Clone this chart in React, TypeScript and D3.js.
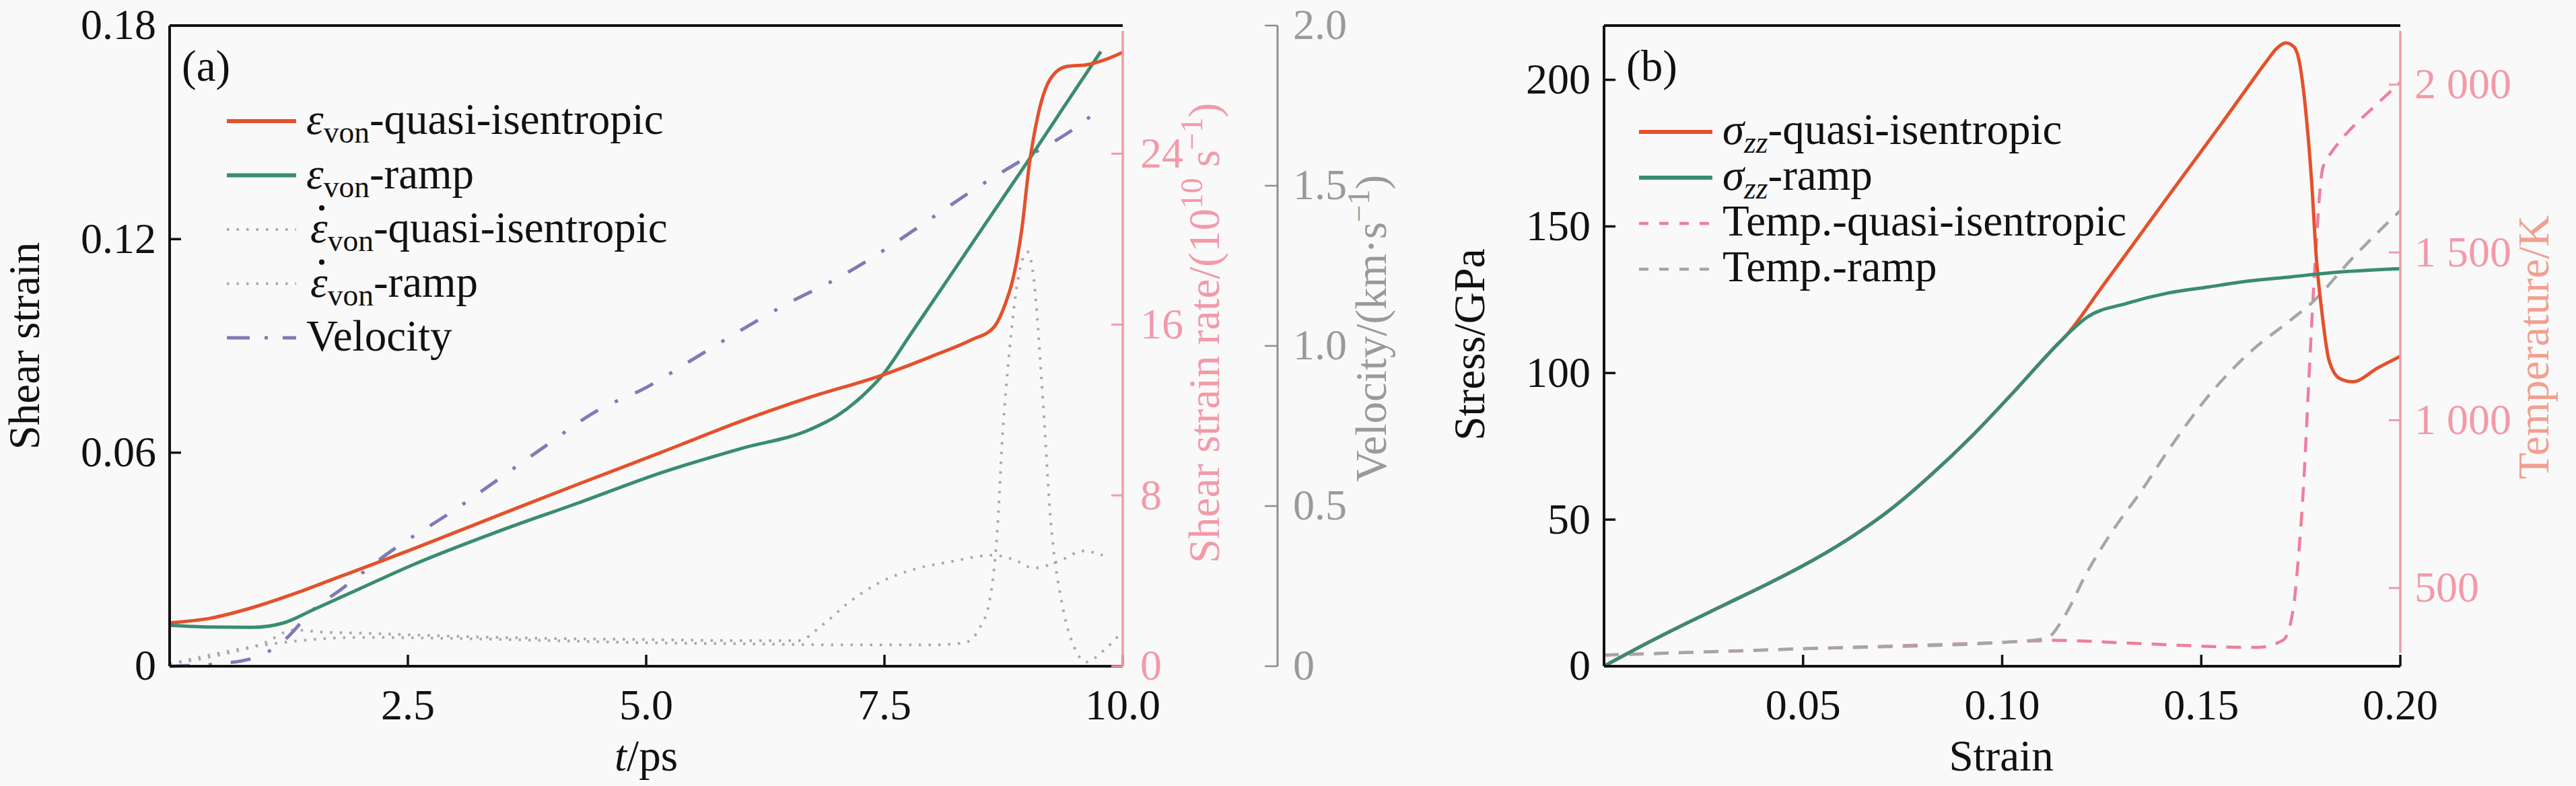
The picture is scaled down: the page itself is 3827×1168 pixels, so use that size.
import React from "react";
import * as d3 from "d3";

const W = 3827,
  H = 1168;
const TXT = { fontFamily: '"Liberation Serif"' };

// ---- panel (a): shear strain vs time ----
const tQuasi = [0, 0.43, 0.86, 1.29, 1.72, 2.14, 2.57, 3.43, 4.29, 5.15, 6.0, 6.72, 7.48, 7.99, 8.42, 8.64, 8.77, 8.85, 8.94, 9.02, 9.11, 9.24, 9.41, 9.62, 9.79, 10];
const strainQuasi = [0.0122, 0.0135, 0.0164, 0.0202, 0.0245, 0.0287, 0.0331, 0.0422, 0.0512, 0.06, 0.0689, 0.0756, 0.0818, 0.087, 0.0918, 0.095, 0.102, 0.109, 0.1226, 0.141, 0.1547, 0.165, 0.1685, 0.169, 0.1702, 0.1725];

const tRamp = [0, 0.43, 0.86, 1.2, 1.5, 1.93, 2.57, 3.43, 4.29, 5.15, 6.0, 6.71, 7.01, 7.27, 7.48, 7.78, 7.99, 8.42, 8.85, 9.05, 9.28, 9.54, 9.77];
const strainRamp = [0.0115, 0.011, 0.0109, 0.0122, 0.0158, 0.021, 0.0287, 0.0377, 0.0459, 0.0543, 0.0612, 0.0664, 0.0705, 0.076, 0.0818, 0.0935, 0.1018, 0.1188, 0.1358, 0.1437, 0.153, 0.1635, 0.1727];

const tRateQuasi = [0, 0.5, 1.0, 1.5, 2, 3, 4, 5, 6, 7, 8, 8.34, 8.5, 8.6, 8.68, 8.74, 8.81, 8.9, 9.0, 9.07, 9.15, 9.25, 9.36, 9.49, 9.62, 9.79, 9.97];
const rateQuasi = [0.1, 0.6, 1.0, 1.25, 1.35, 1.3, 1.2, 1.1, 1.05, 1.0, 1.0, 1.1, 1.8, 3.0, 6.1, 10.9, 14.7, 18.1, 19.4, 18.0, 13.3, 6.5, 3.0, 0.9, 0.2, 0.7, 1.5];

const tRateRamp = [0, 0.5, 1.0, 1.3, 1.6, 2, 3, 4, 5, 6, 6.6, 6.84, 7.13, 7.44, 7.78, 8.2, 8.64, 8.85, 9.07, 9.37, 9.58, 9.79];
const rateRamp = [0.1, 0.5, 1.1, 1.7, 1.6, 1.55, 1.4, 1.3, 1.25, 1.2, 1.2, 1.9, 3.0, 3.9, 4.5, 4.9, 5.2, 5.0, 4.6, 5.0, 5.4, 5.2];

const tVel = [0, 0.6, 1.0, 1.2, 1.5, 1.8, 2.27, 3.0, 3.86, 4.5, 5.0, 5.5, 6.0, 6.5, 7.0, 7.5, 8.0, 8.5, 9.0, 9.5, 9.8];
const velocity = [0, 0.01, 0.04, 0.08, 0.175, 0.24, 0.348, 0.49, 0.67, 0.8, 0.87, 0.96, 1.05, 1.135, 1.21, 1.3, 1.4, 1.5, 1.59, 1.68, 1.75];

const xTicksA = [2.5, 5, 7.5, 10];
const yTicksA = [0, 0.06, 0.12, 0.18];
const rateTicks = [0, 8, 16, 24];
const velTicks = [0, 0.5, 1, 1.5, 2];

// ---- panel (b): stress / temperature vs strain ----
const eQuasi = [0, 0.0103, 0.0205, 0.0308, 0.041, 0.05, 0.0616, 0.0719, 0.0821, 0.0924, 0.1026, 0.1129, 0.116, 0.125, 0.135, 0.145, 0.155, 0.1621, 0.1665, 0.169, 0.1712, 0.1733, 0.1748, 0.1762, 0.1777, 0.1789, 0.1802, 0.1821, 0.1848, 0.188, 0.1944, 0.2];
const stressQuasi = [0, 7.5, 14.5, 21.3, 28.0, 34.3, 43.6, 53.4, 65.2, 78.5, 93.1, 108.4, 112.7, 129.2, 147.8, 166.4, 184.9, 198.3, 206.5, 210.8, 212.6, 211.2, 205, 190, 165.8, 139.4, 122, 104.3, 98.1, 97, 101.8, 105.7];

const eRamp = [0, 0.0103, 0.0205, 0.0308, 0.041, 0.05, 0.0616, 0.0719, 0.0821, 0.0924, 0.1026, 0.1129, 0.116, 0.1212, 0.1314, 0.1417, 0.152, 0.162, 0.1725, 0.1827, 0.2];
const stressRamp = [0, 7.5, 14.5, 21.3, 28.0, 34.3, 43.6, 53.4, 65.2, 78.5, 93.1, 108.4, 112.7, 118.9, 123.8, 127.3, 129.4, 131.4, 132.8, 134.2, 135.6];

const eTempQuasi = [0, 0.05, 0.1, 0.113, 0.1334, 0.164, 0.1706, 0.1731, 0.1743, 0.1757, 0.177, 0.1785, 0.1805, 0.1828, 0.1848, 0.1944, 0.2];
const tempQuasi = [300, 319, 338, 344, 335, 323, 345, 437, 576, 806, 1113, 1450, 1750, 1800, 1831, 1945, 2007];

const eTempRamp = [0, 0.05, 0.1, 0.111, 0.116, 0.121, 0.128, 0.135, 0.1417, 0.152, 0.162, 0.1725, 0.1776, 0.1879, 0.2];
const tempRamp = [300, 319, 338, 350, 423, 540, 675, 790, 910, 1075, 1200, 1299, 1348, 1482, 1625];

const xTicksB = [0.05, 0.1, 0.15, 0.2];
const yTicksB = [0, 50, 100, 150, 200];
const tempTicks = [500, 1000, 1500, 2000];

const RED = "#e4512b";
const GREEN = "#3a8c70";
const PINK = "#f29aa8";
const GREY = "#9a9a9a";
const VEL = "#7e7bb5";
const INK = "#111";

// scales
const xA = d3.scaleLinear().domain([0, 10]).range([252, 1668]);
const yA = d3.scaleLinear().domain([0, 0.18]).range([990, 38]);
const yRate = d3.scaleLinear().domain([0, 30]).range([990, 38]);
const yVel = d3.scaleLinear().domain([0, 2]).range([990, 38]);
const xB = d3.scaleLinear().domain([0, 0.2]).range([2383, 3566]);
const yB = d3.scaleLinear().domain([0, 218.5]).range([990, 38]);
const yT = d3.scaleLinear().domain([267, 2176]).range([990, 38]);

const curve = (xs: number[], ys: number[], x: any, y: any) =>
  d3
    .line<number>()
    .x((_, i) => x(xs[i]))
    .y((d) => y(d))
    .curve(d3.curveMonotoneX)(ys) as string;

type Part = { t: string; italic?: boolean; sub?: boolean; sup?: boolean };

function parts(ps: Part[], size: number) {
  let shift = 0;
  return ps.map((p, i) => {
    const target = p.sub ? 0.2 * size : p.sup ? -0.38 * size : 0;
    const dy = target - shift;
    shift = target;
    return (
      <tspan key={i} dy={dy} fontSize={p.sub || p.sup ? size * 0.7 : size} fontStyle={p.italic ? "italic" : undefined}>
        {p.t}
      </tspan>
    );
  });
}

function Title({ x, y, ps, color, rotate }: { x: number; y: number; ps: Part[]; color: string; rotate?: boolean }) {
  return (
    <text
      transform={rotate ? `translate(${x},${y}) rotate(-90)` : `translate(${x},${y})`}
      textAnchor="middle"
      fontSize={65}
      fill={color}
      style={TXT}
    >
      <tspan dy={rotate ? 23 : 0}>{parts(ps, 65)}</tspan>
    </text>
  );
}

// vertical axis: ticks drawn with the scale, tickLen < 0 points left
function VAxis({ scale, x, ticks, fmt, tickLen, labelDx, anchor, color, text, width, y0, y1 }: any) {
  return (
    <g>
      <path d={`M${x},${y0 ?? scale.range()[1]}V${y1 ?? scale.range()[0]}`} stroke={color} strokeWidth={width} fill="none" />
      {ticks.map((t: number) => (
        <g key={t} transform={`translate(${x},${scale(t)})`}>
          <line x2={tickLen} stroke={color} strokeWidth={width - 0.5} />
          <text x={labelDx} dy="0.32em" textAnchor={anchor} fontSize={64} fill={text} style={TXT}>
            {fmt(t)}
          </text>
        </g>
      ))}
    </g>
  );
}

function HAxis({ scale, y, ticks, fmt }: any) {
  const [a, b] = scale.range();
  return (
    <g>
      <path d={`M${a},${y}H${b}`} stroke={INK} strokeWidth={4} fill="none" />
      {ticks.map((t: number) => (
        <g key={t} transform={`translate(${scale(t)},${y})`}>
          <line y2={-17} stroke={INK} strokeWidth={3.5} />
          <text y={79} textAnchor="middle" fontSize={64} fill={INK} style={TXT}>
            {fmt(t)}
          </text>
        </g>
      ))}
    </g>
  );
}

const legendA = [
  { ps: [{ t: "ε", italic: true }, { t: "von", sub: true }, { t: "-quasi-isentropic" }], c: RED, w: 6, dash: undefined, dot: false },
  { ps: [{ t: "ε", italic: true }, { t: "von", sub: true }, { t: "-ramp" }], c: GREEN, w: 6, dash: undefined, dot: false },
  { ps: [{ t: "ε", italic: true }, { t: "von", sub: true }, { t: "-quasi-isentropic" }], c: "#b3a4aa", w: 4, dash: "3.5,11", dot: true },
  { ps: [{ t: "ε", italic: true }, { t: "von", sub: true }, { t: "-ramp" }], c: "#a9a9a9", w: 4, dash: "3.5,11", dot: true },
  { ps: [{ t: "Velocity" }], c: VEL, w: 5, dash: "34,22,5,22", dot: false },
];

const legendB = [
  { ps: [{ t: "σ", italic: true }, { t: "zz", sub: true, italic: true }, { t: "-quasi-isentropic" }], c: RED, w: 6, dash: undefined },
  { ps: [{ t: "σ", italic: true }, { t: "zz", sub: true, italic: true }, { t: "-ramp" }], c: GREEN, w: 6, dash: undefined },
  { ps: [{ t: "Temp.-quasi-isentropic" }], c: "#ee7f9a", w: 4.5, dash: "14,16" },
  { ps: [{ t: "Temp.-ramp" }], c: "#a6a6a6", w: 4.5, dash: "14,16" },
];

const fmt2 = (d: number) => (d === 0 ? "0" : d3.format(".2f")(d));
const fmt1 = (d: number) => (d === 0 ? "0" : d3.format(".1f")(d));
const fmtT = (d: number) => (d >= 1000 ? `${Math.floor(d / 1000)} ${String(d % 1000).padStart(3, "0")}` : String(d));

export default function App() {
  const linesA = [
    { d: curve(tRateRamp, rateRamp, xA, yRate), c: "#a9a9a9", w: 4, dash: "3.5,11" },
    { d: curve(tRateQuasi, rateQuasi, xA, yRate), c: "#b3a4aa", w: 4, dash: "3.5,11" },
    { d: curve(tVel, velocity, xA, yVel), c: VEL, w: 5, dash: "30,28,5,28" },
    { d: curve(tRamp, strainRamp, xA, yA), c: GREEN, w: 5, dash: undefined },
    { d: curve(tQuasi, strainQuasi, xA, yA), c: RED, w: 5, dash: undefined },
  ];
  const linesB = [
    { d: curve(eTempQuasi, tempQuasi, xB, yT), c: "#ee7f9a", w: 4.5, dash: "22,15" },
    { d: curve(eTempRamp, tempRamp, xB, yT), c: "#a6a6a6", w: 4.5, dash: "22,15" },
    { d: curve(eQuasi, stressQuasi, xB, yB), c: RED, w: 5, dash: undefined },
    { d: curve(eRamp, stressRamp, xB, yB), c: GREEN, w: 5, dash: undefined },
  ];

  return (
    <svg width={W} height={H} style={{ position: "absolute", left: 0, top: 0, display: "block" }}>
      <rect width={W} height={H} fill="#f9f9f9" />

      {/* ---------- panel a ---------- */}
      {linesA.map((l, i) => (
        <path key={i} d={l.d} fill="none" stroke={l.c} strokeWidth={l.w} strokeDasharray={l.dash} />
      ))}
      <path d={`M${xA.range()[0]},${yA.range()[1]}H${xA.range()[1]}`} stroke={INK} strokeWidth={4} />
      <VAxis scale={yA} x={xA.range()[0]} ticks={yTicksA} fmt={fmt2} tickLen={17} labelDx={-20} anchor="end" color={INK} text={INK} width={4} />
      <HAxis scale={xA} y={yA.range()[0]} ticks={xTicksA} fmt={d3.format(".1f")} />
      <VAxis scale={yRate} x={xA.range()[1]} ticks={rateTicks} fmt={String} tickLen={-17} labelDx={26} anchor="start" color={PINK} text={PINK} width={3.5} y0={46} />
      <VAxis scale={yVel} x={1898} ticks={velTicks} fmt={fmt1} tickLen={-19} labelDx={23} anchor="start" color="#8f8f8f" text={GREY} width={3} />

      <Title x={58} y={514} ps={[{ t: "Shear strain" }]} color={INK} rotate />
      <Title x={960} y={1145} ps={[{ t: "t", italic: true }, { t: "/ps" }]} color={INK} />
      <Title x={1811} y={495} ps={[{ t: "Shear strain rate/(10" }, { t: "10", sup: true }, { t: " s" }, { t: "−1", sup: true }, { t: ")" }]} color={PINK} rotate />
      <Title x={2059} y={488} ps={[{ t: "Velocity/(km·s" }, { t: "−1", sup: true }, { t: ")" }]} color={GREY} rotate />

      <text x={270} y={120} fontSize={65} fill={INK} style={TXT}>(a)</text>

      {legendA.map((l, i) => {
        const y = 180 + i * 80.5;
        const tx = l.dot ? 461 : 455;
        return (
          <g key={i}>
            <line x1={337} x2={440} y1={y} y2={y} stroke={l.c} strokeWidth={l.w} strokeDasharray={l.dash} />
            <text x={tx} y={y + 19} fontSize={65} fill={INK} style={TXT}>
              {parts(l.ps, 65)}
            </text>
            {l.dot && <circle cx={tx + 17} cy={y - 32} r={4} fill={INK} />}
          </g>
        );
      })}

      {/* ---------- panel b ---------- */}
      {linesB.map((l, i) => (
        <path key={i} d={l.d} fill="none" stroke={l.c} strokeWidth={l.w} strokeDasharray={l.dash} />
      ))}
      <path d={`M${xB.range()[0]},${yB.range()[1]}H${xB.range()[1]}`} stroke={INK} strokeWidth={4} />
      <VAxis scale={yB} x={xB.range()[0]} ticks={yTicksB} fmt={String} tickLen={17} labelDx={-20} anchor="end" color={INK} text={INK} width={4} />
      <HAxis scale={xB} y={yB.range()[0]} ticks={xTicksB} fmt={d3.format(".2f")} />
      <VAxis scale={yT} x={xB.range()[1]} ticks={tempTicks} fmt={fmtT} tickLen={-17} labelDx={21} anchor="start" color={PINK} text={PINK} width={3.5} y0={46} y1={970} />

      <Title x={2205} y={512} ps={[{ t: "Stress/GPa" }]} color={INK} rotate />
      <Title x={2973} y={1145} ps={[{ t: "Strain" }]} color={INK} />
      <Title x={3786} y={516} ps={[{ t: "Temperature/K" }]} color="#f1a090" rotate />

      <text x={2416} y={120} fontSize={65} fill={INK} style={TXT}>(b)</text>

      {legendB.map((l, i) => {
        const y = 196 + i * 68;
        return (
          <g key={i}>
            <line x1={2435} x2={2544} y1={y} y2={y} stroke={l.c} strokeWidth={l.w} strokeDasharray={l.dash} />
            <text x={2559} y={y + 18} fontSize={65} fill={INK} style={TXT}>
              {parts(l.ps, 65)}
            </text>
          </g>
        );
      })}
    </svg>
  );
}
